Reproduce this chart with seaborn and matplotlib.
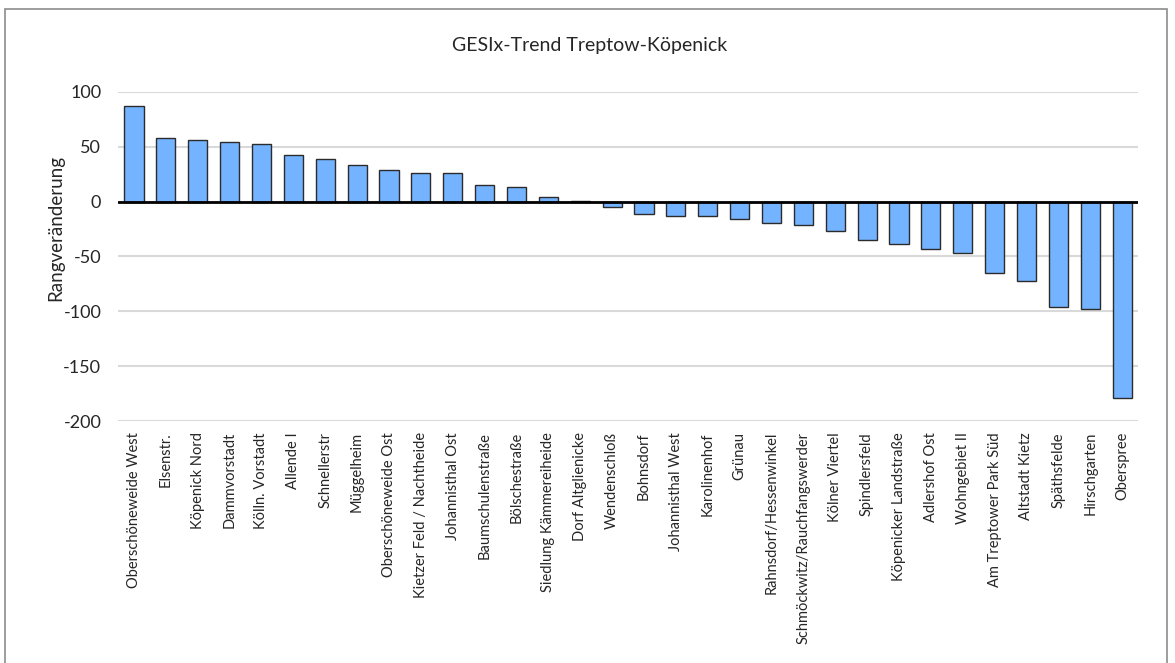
import matplotlib
matplotlib.use("Agg")
import matplotlib.pyplot as plt
import matplotlib.patches as mpatches
import seaborn as sns
import pandas as pd

# Ortsteile / Planungsräume, sortiert nach Rangveränderung
areas = [
    "Oberschöneweide West", "Elsenstr.", "Köpenick Nord", "Dammvorstadt",
    "Kölln. Vorstadt", "Allende I", "Schnellerstr", "Müggelheim",
    "Oberschöneweide Ost", "Kietzer Feld / Nachtheide", "Johannisthal Ost",
    "Baumschulenstraße", "Bölschestraße", "Siedlung Kämmereiheide",
    "Dorf Altglienicke", "Wendenschloß", "Bohnsdorf", "Johannisthal West",
    "Karolinenhof", "Grünau", "Rahnsdorf/Hessenwinkel",
    "Schmöckwitz/Rauchfangswerder", "Kölner Viertel", "Spindlersfeld",
    "Köpenicker Landstraße", "Adlershof Ost", "Wohngebiet II",
    "Am Treptower Park Süd", "Altstadt Kietz", "Späthsfelde",
    "Hirschgarten", "Oberspree",
]
rank_change = [
    87, 58, 56, 54, 53, 43, 39, 33, 29, 26, 26, 15, 13, 4, 1,
    -5, -11, -13, -13, -16, -19, -21, -27, -35, -39, -43, -47,
    -65, -72, -96, -98, -179,
]
y_ticks = [100, 50, 0, -50, -100, -150, -200]

df = pd.DataFrame({"Gebiet": areas, "Rangveränderung": rank_change})

sns.set_style("white")
plt.rcParams["font.family"] = ["Lato", "DejaVu Sans"]

fig = plt.figure(figsize=(11.75, 6.63), dpi=100)
ax = fig.add_axes([118 / 1175, 1 - 421 / 663, 1020 / 1175, 329 / 663])

sns.barplot(data=df, x="Gebiet", y="Rangveränderung", color="#74b3ff",
            saturation=1, width=0.6, edgecolor="#2b2b2b", linewidth=1,
            ax=ax, zorder=3)

ax.set_ylim(-200, 100)
ax.set_yticks(y_ticks)
ax.set_yticklabels([str(t) for t in y_ticks], fontsize=13)
ax.set_xlim(-0.5, len(areas) - 0.5)
ax.grid(axis="y", color="#d9d9d9", linewidth=1.5, zorder=0)
ax.axhline(0, color="black", linewidth=2, zorder=4)
for s in ax.spines.values():
    s.set_visible(False)
ax.tick_params(axis="both", length=0)
ax.tick_params(axis="y", pad=12)
ax.set_xticks(range(len(areas)))
ax.set_xticklabels(areas, rotation=90, fontsize=10.5)
ax.tick_params(axis="x", pad=8)
ax.set_xlabel("")
ax.set_ylabel("Rangveränderung", fontsize=13.5)
ax.yaxis.set_label_coords(-0.053, 0.587)

fig.text(590 / 1175, 1 - 45 / 663, "GESIx-Trend Treptow-Köpenick",
         ha="center", va="center", fontsize=14)

fig.patches.append(mpatches.Rectangle((5 / 1175, -0.05), 1162 / 1175,
                                      1 - 9 / 663 + 0.05, transform=fig.transFigure,
                                      fill=False, edgecolor="#8c8c8c", linewidth=1.2))

fig.savefig("out.png", dpi=100)
